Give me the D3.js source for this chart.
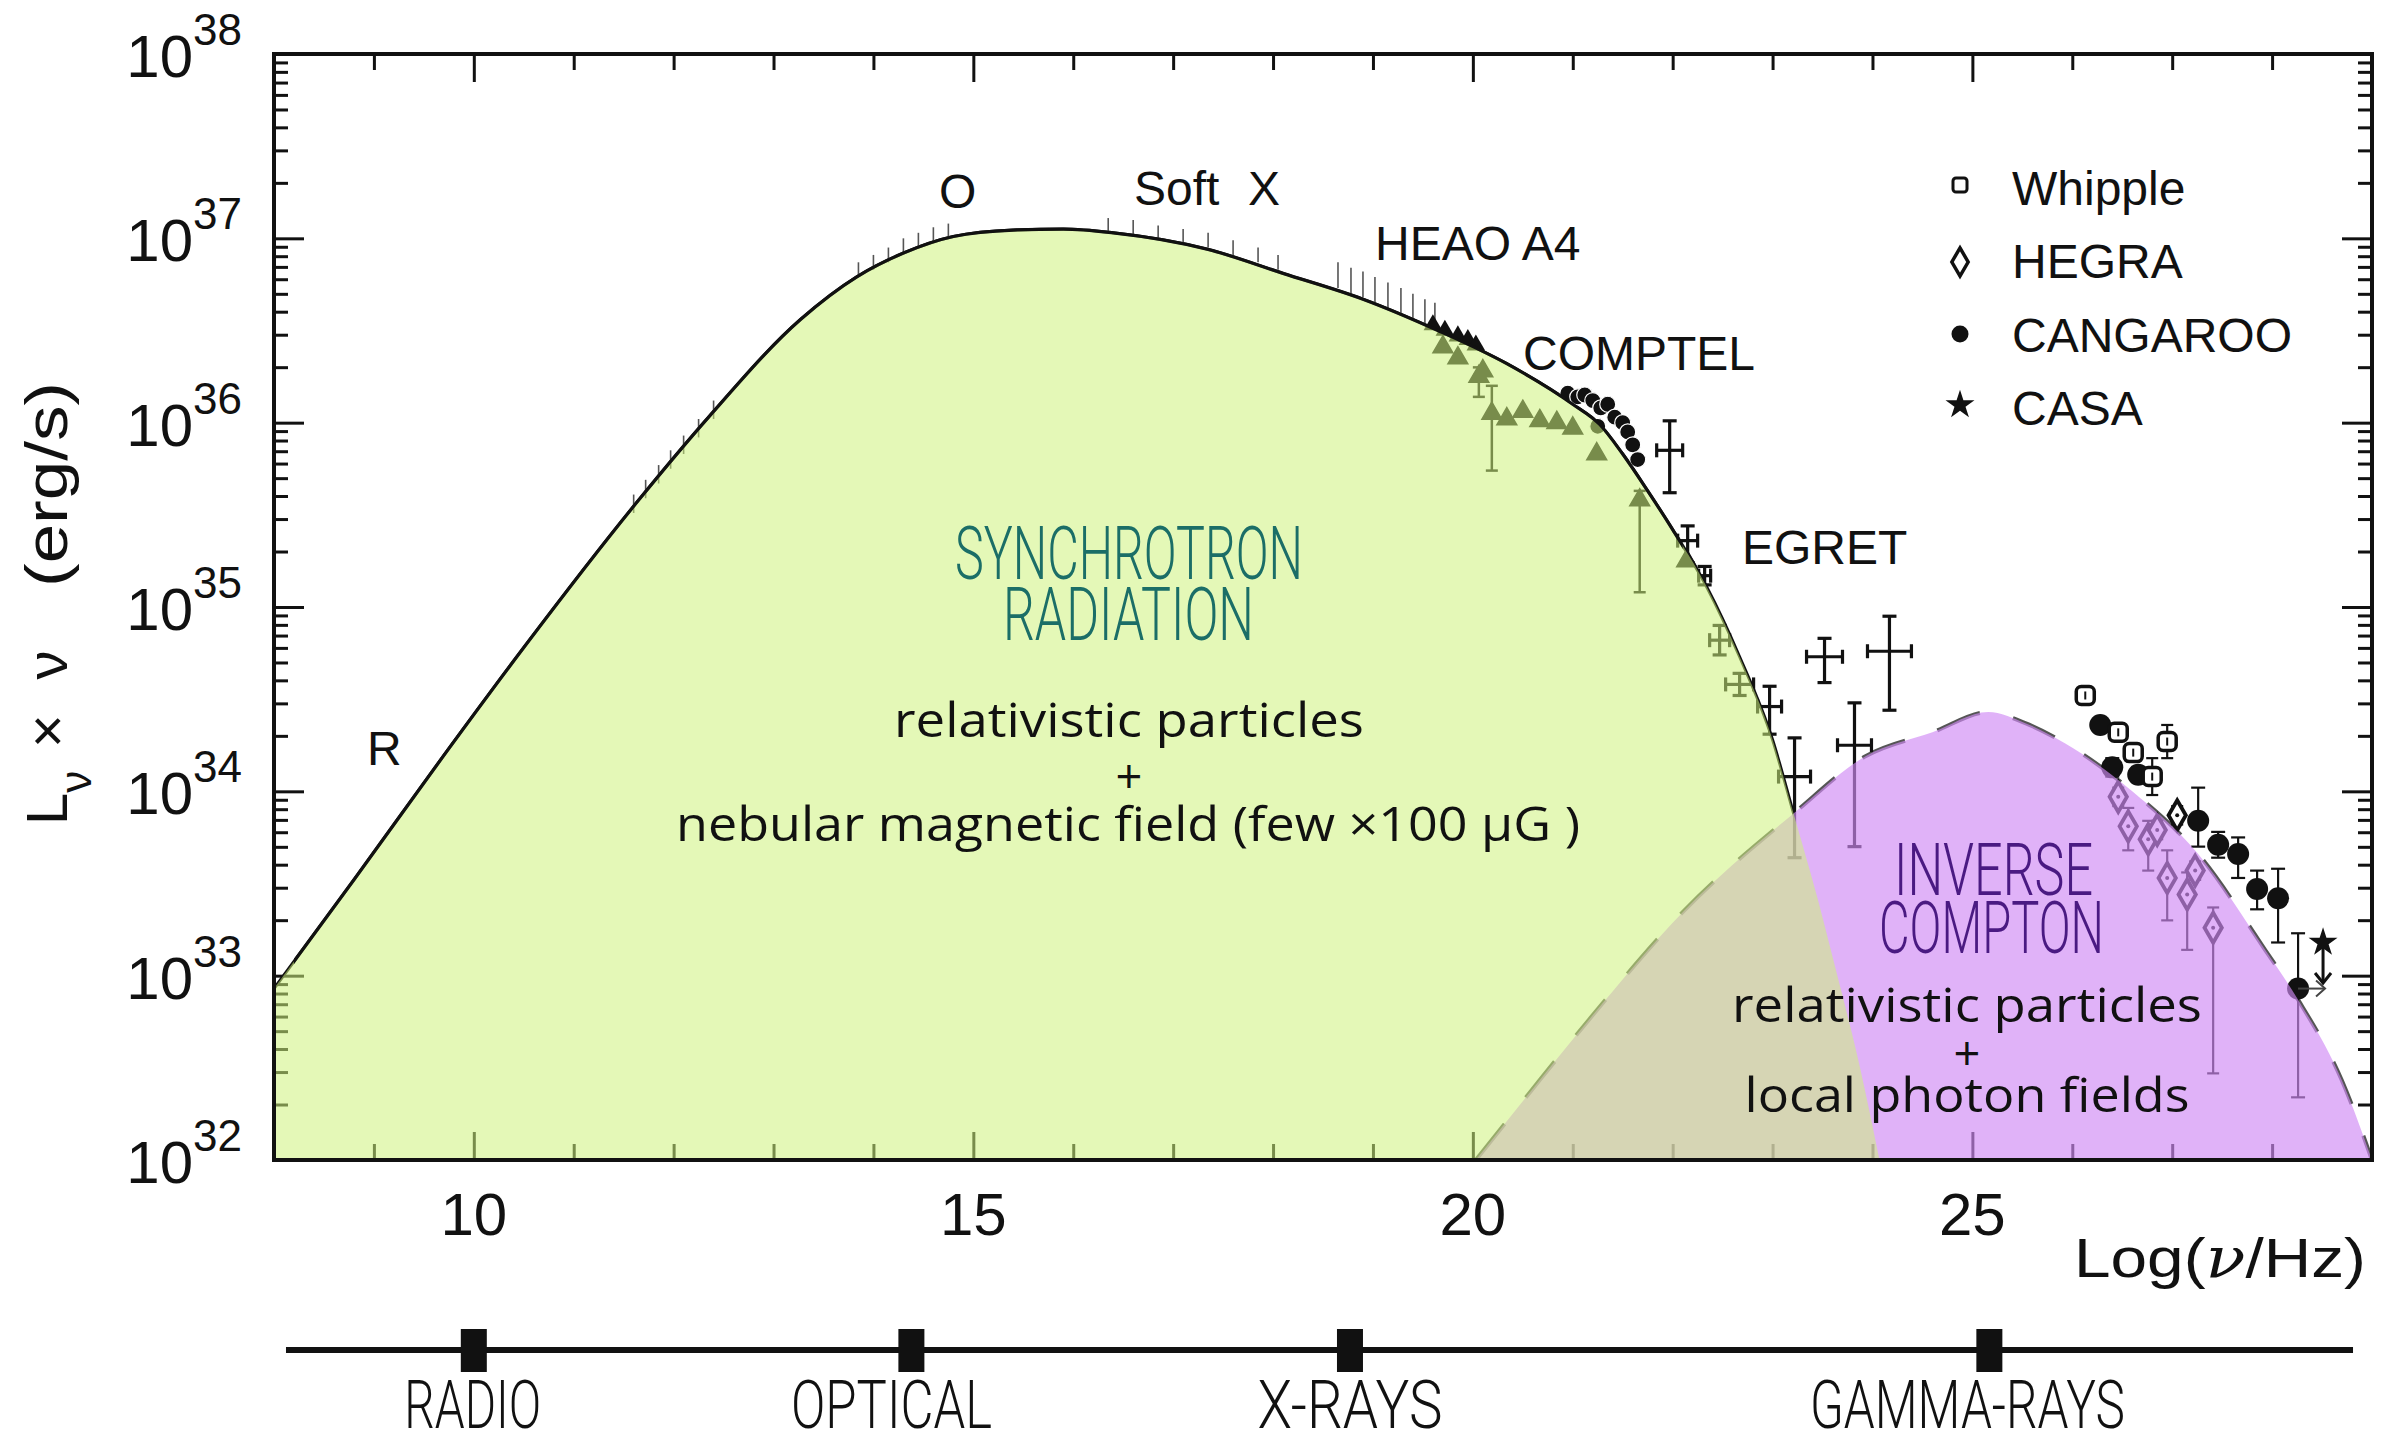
<!DOCTYPE html>
<html>
<head>
<meta charset="utf-8">
<script src="https://cdnjs.cloudflare.com/ajax/libs/d3/7.8.5/d3.min.js"></script>
<style>
  html, body { margin: 0; padding: 0; background: #fff; }
  svg { display: block; }
</style>
</head>
<body>
<svg id="chart" width="2389" height="1441"></svg>
<script>
// ---------------- data (log10 nu [Hz], log10 L_nu*nu [erg/s]) ----------------

// synchrotron model curve
const syncLogNu = [8.0, 8.8, 9.7, 10.5, 11.65, 12.35, 13.27, 13.83, 14.3, 14.8, 15.4, 15.9, 16.4, 17.35, 18.1, 18.9, 19.65, 20.34, 21.0, 21.27, 21.5, 21.75, 22.0, 22.34, 22.67, 23.0, 23.21, 23.45, 23.62, 23.88, 24.07];
const syncLogL  = [32.93, 33.52, 34.195, 34.78, 35.58, 36.03, 36.56, 36.79, 36.92, 37.01, 37.045, 37.05, 37.03, 36.94, 36.81, 36.67, 36.50, 36.32, 36.10, 35.99, 35.83, 35.63, 35.42, 35.11, 34.73, 34.28, 33.88, 33.42, 33.06, 32.49, 32.0];

// inverse Compton model curve
const icLogNu = [20.03, 20.59, 21.16, 22.11, 23.21, 23.93, 24.6, 25.16, 25.53, 25.93, 26.6, 27.26, 27.93, 28.26, 28.7, 29.0];
const icLogL  = [32.0, 32.38, 32.76, 33.35, 33.88, 34.19, 34.32, 34.43, 34.37, 34.26, 34.0, 33.66, 33.14, 32.87, 32.43, 32.0];

// radio / optical / soft X-ray measurements along the synchrotron hump
const obsLogNu = [11.6, 11.72, 11.85, 11.97, 12.1, 12.25, 12.4, 13.85, 14.0, 14.15, 14.3, 14.45, 14.6, 14.75, 16.35, 16.6, 16.85, 17.1, 17.35, 17.6, 17.85, 18.05, 18.65, 18.78, 18.9, 19.02, 19.15, 19.28, 19.4, 19.52, 19.62];
const obsLogL  = [35.56, 35.64, 35.72, 35.80, 35.88, 35.97, 36.07, 36.83, 36.87, 36.91, 36.96, 36.99, 37.02, 37.04, 37.07, 37.06, 37.03, 37.01, 36.99, 36.95, 36.91, 36.87, 36.80, 36.77, 36.75, 36.72, 36.69, 36.66, 36.63, 36.60, 36.58];
const obsErr   = [0.05, 0.05, 0.05, 0.05, 0.05, 0.05, 0.05, 0.04, 0.04, 0.04, 0.04, 0.04, 0.04, 0.04, 0.04, 0.04, 0.04, 0.04, 0.04, 0.04, 0.04, 0.04, 0.07, 0.07, 0.07, 0.07, 0.07, 0.07, 0.07, 0.07, 0.07];

// HEAO A4
const heaoLogNu = [19.6, 19.72, 19.85, 19.95, 20.03];
const heaoLogL  = [36.53, 36.50, 36.47, 36.45, 36.42];

// COMPTEL (below the model)
const comptelLogNu = [19.7, 19.85, 20.06, 20.1, 20.19, 20.34, 20.5, 20.67, 20.84, 21.0, 21.24, 21.67, 22.14];
const comptelLogL  = [36.41, 36.35, 36.25, 36.28, 36.05, 36.02, 36.06, 36.01, 36.0, 35.97, 35.83, 35.58, 35.25];
const comptelErrLo = [0, 0, 0.11, 0, 0.31, 0, 0, 0, 0, 0, 0, 0.50, 0];
const comptelErrHi = [0, 0, 0.05, 0, 0.15, 0, 0, 0, 0, 0, 0, 0.05, 0];

// COMPTEL (above the model)
const comptel2LogNu = [20.95, 21.05, 21.12, 21.2, 21.25, 21.28, 21.35, 21.42, 21.5, 21.55, 21.6, 21.65];
const comptel2LogL  = [36.16, 36.14, 36.15, 36.12, 35.98, 36.08, 36.10, 36.03, 36.0, 35.95, 35.88, 35.80];

// EGRET
const egretLogNu = [21.97, 22.15, 22.32, 22.47, 22.67, 22.97, 23.22, 23.52, 23.82, 24.17];
const egretLogL  = [35.85, 35.36, 35.17, 34.82, 34.58, 34.46, 34.08, 34.73, 34.25, 34.76];
const egretLo    = [35.62, 35.24, 35.12, 34.74, 34.52, 34.31, 33.64, 34.59, 33.70, 34.44];
const egretHi    = [36.01, 35.44, 35.22, 34.90, 34.64, 34.57, 34.29, 34.83, 34.48, 34.95];
const egretDNu   = [0.13, 0.10, 0.06, 0.10, 0.14, 0.12, 0.16, 0.18, 0.17, 0.22];

// TeV
const whippleLogNu = [26.13, 26.46, 26.61, 26.80, 26.95];
const whippleLogL  = [34.52, 34.32, 34.21, 34.08, 34.27];
const whippleErr   = [0.03, 0.03, 0.03, 0.10, 0.09];

const hegraLogNu = [26.46, 26.56, 26.76, 26.85, 26.95, 27.05, 27.15, 27.23, 27.41];
const hegraLogL  = [33.97, 33.81, 33.74, 33.79, 33.53, 33.87, 33.44, 33.57, 33.26];
const hegraErrLo = [0.05, 0.13, 0.17, 0.05, 0.23, 0.05, 0.30, 0.05, 0.79];
const hegraErrHi = [0.05, 0.10, 0.10, 0.05, 0.15, 0.05, 0.12, 0.05, 0.11];

const cangarooLogNu = [26.28, 26.40, 26.66, 27.26, 27.46, 27.66, 27.85, 28.06, 28.26];
const cangarooLogL  = [34.36, 34.13, 34.09, 33.84, 33.71, 33.66, 33.47, 33.42, 32.93];
const cangarooErrLo = [0.03, 0.05, 0.04, 0.14, 0.07, 0.13, 0.11, 0.24, 0.59];
const cangarooErrHi = [0.03, 0.05, 0.04, 0.18, 0.07, 0.09, 0.10, 0.16, 0.30];

const casaLogNu = [28.51];
const casaLogL  = [33.18];

// axes
const xTickLabels = [10, 15, 20, 25];
const yTickExps = [32, 33, 34, 35, 36, 37, 38];

// legend
const legendNames = ["Whipple", "HEGRA", "CANGAROO", "CASA"];

// spectral bands strip
const bandNames = ["RADIO", "OPTICAL", "X-RAYS", "GAMMA-RAYS"];
const bandTickLogNu = [10.0, 14.38, 18.77, 25.17];
const bandLabelLogNu = [9.99, 14.18, 18.77, 24.95];

// ---------------- chart ----------------
const W = 2389, H = 1441;
const FRAME = { left: 274, right: 2372, top: 54, bottom: 1160 };
const SANS = "'Liberation Sans', Arial, Helvetica, sans-serif";
const HAND = "Roboto, 'Open Sans', sans-serif";
const ROUND = "'Open Sans', Lato, sans-serif";
const INK = "#111";

const svg = d3.select("#chart");
svg.append("rect").attr("width", W).attr("height", H).attr("fill", "#fff");

const x = d3.scaleLinear().domain([8, 29]).range([FRAME.left, FRAME.right]);
const y = d3.scaleLog().domain([1e32, 1e38]).range([FRAME.bottom, FRAME.top]);
const X = v => x(v);
const Y = v => y(Math.pow(10, v));

const defs = svg.append("defs");
defs.append("clipPath").attr("id", "plotClip").append("rect")
  .attr("x", FRAME.left).attr("y", FRAME.top)
  .attr("width", FRAME.right - FRAME.left).attr("height", FRAME.bottom - FRAME.top);
defs.append("clipPath").attr("id", "syncBlackClip").append("rect")
  .attr("x", x(8.2)).attr("y", FRAME.top)
  .attr("width", x(22.1) - x(8.2)).attr("height", FRAME.bottom - FRAME.top);
defs.append("clipPath").attr("id", "syncUnderClip").append("rect")
  .attr("x", FRAME.left).attr("y", FRAME.top)
  .attr("width", x(23.22) - FRAME.left).attr("height", FRAME.bottom - FRAME.top);

const gBase = svg.append("g");                                   // ticks + measurements
const gOver = svg.append("g").attr("clip-path", "url(#plotClip)"); // coloured emission regions
const gTop = svg.append("g");                                    // frame, curve, text

// ---- ticks ----
const majorX = xTickLabels.slice();
const minorX = x.ticks(21).filter(v => v > 8 && v < 29 && !majorX.includes(v));
const yAll = y.ticks();
const isDecade = v => Math.abs(Math.log10(v) - Math.round(Math.log10(v))) < 1e-9;
const majorY = yAll.filter(isDecade);
const minorY = yAll.filter(v => !isDecade(v));

function drawAxis(gen, tr) {
  const g = gBase.append("g").attr("transform", tr).call(gen);
  g.select(".domain").remove();
  g.selectAll("text").remove();
  g.selectAll("line").attr("stroke", INK).attr("stroke-width", 3);
}
drawAxis(d3.axisBottom(x).tickValues(minorX).tickSize(-16), `translate(0,${FRAME.bottom})`);
drawAxis(d3.axisBottom(x).tickValues(majorX).tickSize(-28), `translate(0,${FRAME.bottom})`);
drawAxis(d3.axisTop(x).tickValues(minorX).tickSize(-16), `translate(0,${FRAME.top})`);
drawAxis(d3.axisTop(x).tickValues(majorX).tickSize(-28), `translate(0,${FRAME.top})`);
drawAxis(d3.axisLeft(y).tickValues(minorY).tickSize(-14), `translate(${FRAME.left},0)`);
drawAxis(d3.axisLeft(y).tickValues(majorY).tickSize(-30), `translate(${FRAME.left},0)`);
drawAxis(d3.axisRight(y).tickValues(minorY).tickSize(-14), `translate(${FRAME.right},0)`);
drawAxis(d3.axisRight(y).tickValues(majorY).tickSize(-30), `translate(${FRAME.right},0)`);

// ---- model curves ----
const zip = (a, b) => a.map((v, i) => ({ nu: v, l: b[i] }));
const syncData = zip(syncLogNu, syncLogL);
const icData = zip(icLogNu, icLogL);

const lineGen = d3.line().x(d => X(d.nu)).y(d => Y(d.l)).curve(d3.curveMonotoneX);
const areaGen = d3.area().x(d => X(d.nu)).y0(y(1e32)).y1(d => Y(d.l)).curve(d3.curveMonotoneX);

// underlying synchrotron line (tinted by the overlay)
gBase.append("path").datum(syncData).attr("d", lineGen)
  .attr("fill", "none").attr("stroke", INK).attr("stroke-width", 3)
  .attr("clip-path", "url(#syncUnderClip)");

// dashed inverse Compton model
gBase.append("path").datum(icData).attr("d", lineGen)
  .attr("fill", "none").attr("stroke", "#2a2a2a").attr("stroke-width", 4)
  .attr("stroke-dasharray", "46 34").attr("opacity", 0.8);

// ---- measurements ----
function vbar(g, cx, y1, y2, cap, sw, color) {
  g.append("line").attr("x1", cx).attr("x2", cx).attr("y1", y1).attr("y2", y2)
    .attr("stroke", color).attr("stroke-width", sw);
  if (cap > 0) {
    g.append("line").attr("x1", cx - cap / 2).attr("x2", cx + cap / 2).attr("y1", y1).attr("y2", y1)
      .attr("stroke", color).attr("stroke-width", sw);
    g.append("line").attr("x1", cx - cap / 2).attr("x2", cx + cap / 2).attr("y1", y2).attr("y2", y2)
      .attr("stroke", color).attr("stroke-width", sw);
  }
}

// hatch of small bars along the hump
const gObs = gBase.append("g");
obsLogNu.forEach((nu, i) => {
  vbar(gObs, X(nu), Y(obsLogL[i] + obsErr[i]), Y(obsLogL[i] - obsErr[i]), 0, 1.6, "#555");
});

// HEAO A4 triangles
gBase.selectAll(".heao").data(zip(heaoLogNu, heaoLogL)).join("path")
  .attr("transform", d => `translate(${X(d.nu)},${Y(d.l)})`)
  .attr("d", d3.symbol().type(d3.symbolTriangle).size(150)()).attr("fill", INK);

// COMPTEL triangles below the curve
const gCpt = gBase.append("g");
comptelLogNu.forEach((nu, i) => {
  const cx = X(nu), l = comptelLogL[i];
  if (comptelErrLo[i] > 0) vbar(gCpt, cx, Y(l + comptelErrHi[i]), Y(l - comptelErrLo[i]), 12, 2.5, INK);
  gCpt.append("path").attr("transform", `translate(${cx},${Y(l)})`)
    .attr("d", d3.symbol().type(d3.symbolTriangle).size(170)())
    .attr("fill", INK).attr("stroke", INK).attr("stroke-width", 1.5);
});

// COMPTEL points above the curve
gBase.selectAll(".cpt2").data(zip(comptel2LogNu, comptel2LogL)).join("circle")
  .attr("cx", d => X(d.nu)).attr("cy", d => Y(d.l)).attr("r", 8)
  .attr("fill", INK).attr("stroke", "#fff").attr("stroke-width", 1.2);

// EGRET crosses
const gEg = gBase.append("g");
egretLogNu.forEach((nu, i) => {
  const cx = X(nu), cy = Y(egretLogL[i]);
  const xl = X(nu - egretDNu[i]), xr = X(nu + egretDNu[i]);
  vbar(gEg, cx, Y(egretHi[i]), Y(egretLo[i]), 14, 3.2, INK);
  gEg.append("line").attr("x1", xl).attr("x2", xr).attr("y1", cy).attr("y2", cy)
    .attr("stroke", INK).attr("stroke-width", 3.2);
  [xl, xr].forEach(xx => gEg.append("line").attr("x1", xx).attr("x2", xx)
    .attr("y1", cy - 7).attr("y2", cy + 7).attr("stroke", INK).attr("stroke-width", 3.2));
});

// TeV error bars
const gTeV = gBase.append("g");
whippleLogNu.forEach((nu, i) => {
  const l = whippleLogL[i];
  vbar(gTeV, X(nu), Y(l + whippleErr[i]), Y(l - whippleErr[i]), 12, 2.2, INK);
});
hegraLogNu.forEach((nu, i) => {
  const l = hegraLogL[i];
  vbar(gTeV, X(nu), Y(l + hegraErrHi[i]), Y(l - hegraErrLo[i]), 12, 2.2, INK);
});
cangarooLogNu.forEach((nu, i) => {
  const l = cangarooLogL[i];
  vbar(gTeV, X(nu), Y(l + cangarooErrHi[i]), Y(l - cangarooErrLo[i]), 14, 2.2, INK);
});
// HEGRA diamonds
hegraLogNu.forEach((nu, i) => {
  const cx = X(nu), cy = Y(hegraLogL[i]);
  gTeV.append("path").attr("transform", `translate(${cx},${cy})`)
    .attr("d", d3.symbol().type(d3.symbolDiamond).size(260)())
    .attr("fill", "#fff").attr("stroke", INK).attr("stroke-width", 3.8);
  gTeV.append("circle").attr("cx", cx).attr("cy", cy).attr("r", 2).attr("fill", INK);
});
// CANGAROO dots
cangarooLogNu.forEach((nu, i) => {
  gTeV.append("circle").attr("cx", X(nu)).attr("cy", Y(cangarooLogL[i])).attr("r", 11).attr("fill", INK);
});
// Whipple squares
whippleLogNu.forEach((nu, i) => {
  const cx = X(nu), cy = Y(whippleLogL[i]);
  gTeV.append("rect").attr("x", cx - 9).attr("y", cy - 9).attr("width", 18).attr("height", 18)
    .attr("rx", 5).attr("fill", "#fff").attr("stroke", INK).attr("stroke-width", 3.5);
  gTeV.append("line").attr("x1", cx).attr("x2", cx).attr("y1", cy - 4).attr("y2", cy + 4)
    .attr("stroke", INK).attr("stroke-width", 2);
});
// CANGAROO highest-energy point: arrow to the right
{
  const i = cangarooLogNu.length - 1;
  const cx = X(cangarooLogNu[i]), cy = Y(cangarooLogL[i]), ex = X(cangarooLogNu[i] + 0.27);
  gTeV.append("line").attr("x1", cx).attr("x2", ex).attr("y1", cy).attr("y2", cy)
    .attr("stroke", "#444").attr("stroke-width", 2);
  gTeV.append("path").attr("d", `M${ex - 9},${cy - 8}L${ex},${cy}L${ex - 9},${cy + 8}`)
    .attr("fill", "none").attr("stroke", "#444").attr("stroke-width", 2);
}
// CASA upper limit
casaLogNu.forEach((nu, i) => {
  const cx = X(nu), cy = Y(casaLogL[i]), by = Y(casaLogL[i] - 0.22);
  gTeV.append("line").attr("x1", cx).attr("x2", cx).attr("y1", cy).attr("y2", by)
    .attr("stroke", INK).attr("stroke-width", 3);
  gTeV.append("path").attr("d", `M${cx - 8},${by - 10}L${cx},${by}L${cx + 8},${by - 10}`)
    .attr("fill", "none").attr("stroke", INK).attr("stroke-width", 3);
  gTeV.append("path").attr("transform", `translate(${cx},${cy})`)
    .attr("d", d3.symbol().type(d3.symbolStar).size(260)()).attr("fill", INK);
});

// ---- coloured emission regions ----
gOver.append("path").datum(icData).attr("d", areaGen)
  .attr("fill", "rgb(208,138,244)").attr("fill-opacity", 0.66);
gOver.append("path").datum(syncData).attr("d", areaGen)
  .attr("fill", "rgb(206,242,124)").attr("fill-opacity", 0.55);

// synchrotron curve drawn over the fill
gTop.append("path").datum(syncData).attr("d", lineGen)
  .attr("fill", "none").attr("stroke", INK).attr("stroke-width", 3.2)
  .attr("clip-path", "url(#syncBlackClip)");

// frame
gTop.append("rect")
  .attr("x", FRAME.left).attr("y", FRAME.top)
  .attr("width", FRAME.right - FRAME.left).attr("height", FRAME.bottom - FRAME.top)
  .attr("fill", "none").attr("stroke", INK).attr("stroke-width", 4);

// ---- axis labels ----
gTop.selectAll(".xlab").data(xTickLabels).join("text")
  .attr("x", d => x(d)).attr("y", FRAME.bottom + 75)
  .attr("text-anchor", "middle").attr("font-family", SANS).attr("font-size", 60).attr("fill", INK)
  .text(d => d);

yTickExps.forEach(e => {
  const t = gTop.append("text")
    .attr("x", 242).attr("y", y(Math.pow(10, e)) + 23)
    .attr("text-anchor", "end").attr("font-family", SANS).attr("font-size", 60).attr("fill", INK);
  t.append("tspan").text("10");
  t.append("tspan").attr("dy", -32).attr("font-size", 44).text(e);
});

// x title
{
  const t = gTop.append("text").attr("x", 2074).attr("y", 1277)
    .attr("font-family", SANS).attr("font-size", 56).attr("fill", INK)
    .attr("textLength", 292).attr("lengthAdjust", "spacingAndGlyphs");
  t.append("tspan").text("Log(");
  t.append("tspan").attr("font-family", "'DejaVu Serif', serif").attr("font-style", "italic").text("ν");
  t.append("tspan").text("/Hz)");
}

// y title (rotated)
{
  const rot = (yy) => `translate(67,${yy}) rotate(-90)`;
  const t1 = gTop.append("text").attr("transform", rot(825))
    .attr("font-family", SANS).attr("font-size", 58).attr("fill", INK);
  t1.append("tspan").text("L");
  t1.append("tspan").attr("dy", 24).attr("font-size", 44).text("ν");
  gTop.append("text").attr("transform", rot(731)).attr("text-anchor", "middle")
    .attr("font-family", SANS).attr("font-size", 58).attr("fill", INK).text("×");
  gTop.append("text").attr("transform", rot(665)).attr("text-anchor", "middle")
    .attr("font-family", SANS).attr("font-size", 58).attr("fill", INK).text("ν");
  gTop.append("text").attr("transform", rot(587))
    .attr("font-family", SANS).attr("font-size", 60).attr("fill", INK)
    .attr("textLength", 205).attr("lengthAdjust", "spacingAndGlyphs").text("(erg/s)");
}

// ---- instrument annotations ----
const notes = [
  { t: "R", x: 367, y: 765 },
  { t: "O", x: 939, y: 208 },
  { t: "Soft", x: 1134, y: 205 },
  { t: "X", x: 1248, y: 205 },
  { t: "HEAO A4", x: 1375, y: 260 },
  { t: "COMPTEL", x: 1523, y: 370 },
  { t: "EGRET", x: 1742, y: 564 }
];
gTop.selectAll(".note").data(notes).join("text")
  .attr("x", d => d.x).attr("y", d => d.y)
  .attr("font-family", SANS).attr("font-size", 48).attr("fill", INK)
  .text(d => d.t);

// ---- legend ----
const legY = [205, 278, 352, 425];
const legMarkerY = [185, 262, 334, 405];
const gLeg = gTop.append("g");
legendNames.forEach((name, i) => {
  gLeg.append("text").attr("x", 2012).attr("y", legY[i])
    .attr("font-family", SANS).attr("font-size", 48).attr("fill", INK).text(name);
});
gLeg.append("rect").attr("x", 1953).attr("y", legMarkerY[0] - 7).attr("width", 14).attr("height", 14)
  .attr("rx", 3).attr("fill", "#fff").attr("stroke", INK).attr("stroke-width", 3);
gLeg.append("path").attr("transform", `translate(1960,${legMarkerY[1]})`)
  .attr("d", d3.symbol().type(d3.symbolDiamond).size(230)())
  .attr("fill", "#fff").attr("stroke", INK).attr("stroke-width", 3.5);
gLeg.append("circle").attr("cx", 1960).attr("cy", legMarkerY[2]).attr("r", 8.5).attr("fill", INK);
gLeg.append("path").attr("transform", `translate(1960,${legMarkerY[3]})`)
  .attr("d", d3.symbol().type(d3.symbolStar).size(260)()).attr("fill", INK);

// ---- region captions ----
function hand(txt, x0, y0, len, size, color) {
  gTop.append("text").attr("x", x0).attr("y", y0)
    .attr("font-family", HAND).attr("font-weight", 300).attr("font-size", size).attr("fill", color)
    .attr("textLength", len).attr("lengthAdjust", "spacingAndGlyphs").text(txt);
}
hand("SYNCHROTRON", 955, 579, 348, 75, "#1b6e67");
hand("RADIATION", 1003, 640, 251, 75, "#1b6e67");
hand("INVERSE", 1894, 895, 199, 73, "#4a1a82");
hand("COMPTON", 1879, 953, 225, 73, "#4a1a82");

function round(txt, cx, y0, len) {
  const t = gTop.append("text").attr("x", cx).attr("y", y0).attr("text-anchor", "middle")
    .attr("font-family", ROUND).attr("font-size", 47).attr("fill", INK).text(txt);
  if (len) t.attr("textLength", len).attr("lengthAdjust", "spacingAndGlyphs");
}
round("relativistic particles", 1129, 737, 470);
round("+", 1129, 793);
round("nebular magnetic field (few ×100 μG )", 1128, 841, 904);
round("relativistic particles", 1967, 1022, 470);
round("+", 1967, 1070);
round("local photon fields", 1967, 1112, 445);

// ---- spectral bands strip ----
const stripY = 1350;
gTop.append("line").attr("x1", x(8.12)).attr("x2", x(28.81)).attr("y1", stripY).attr("y2", stripY)
  .attr("stroke", INK).attr("stroke-width", 6);
gTop.selectAll(".bandTick").data(bandTickLogNu).join("rect")
  .attr("x", d => x(d) - 13).attr("y", stripY - 21).attr("width", 26).attr("height", 43).attr("fill", INK);
const bandLen = [137, 201, 185, 315];
bandNames.forEach((n, i) => {
  gTop.append("text").attr("x", x(bandLabelLogNu[i])).attr("y", 1428).attr("text-anchor", "middle")
    .attr("font-family", HAND).attr("font-weight", 300).attr("font-size", 66).attr("fill", INK)
    .attr("textLength", bandLen[i]).attr("lengthAdjust", "spacingAndGlyphs").text(n);
});
</script>
</body>
</html>
